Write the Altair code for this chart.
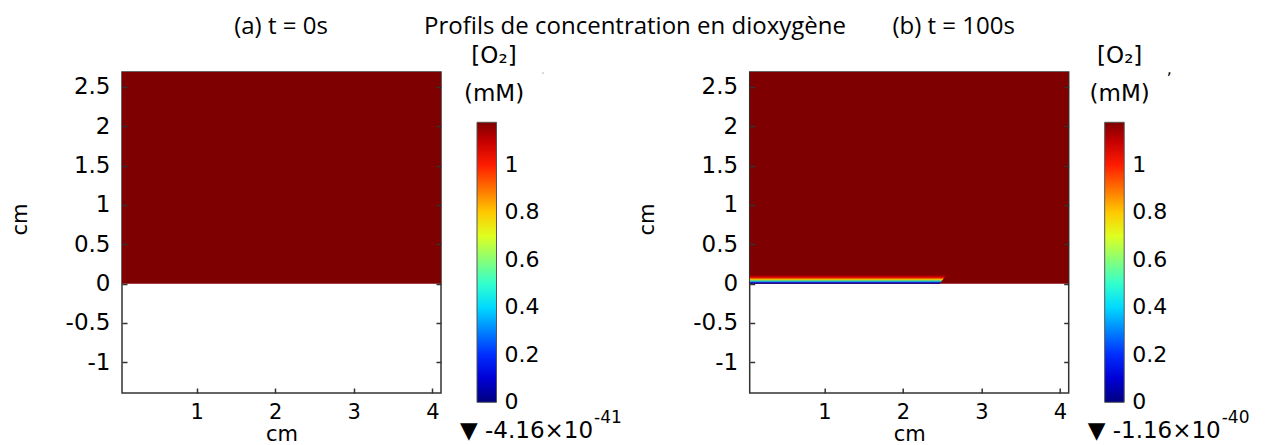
import altair as alt
import pandas as pd

# ---------------- values ----------------
X_DOMAIN = [0.05, 4.11]          # cm, plotted x range
Y_DOMAIN = [-1.39, 2.69]         # cm, plotted y range
X_TICKS = [1, 2, 3, 4]
Y_TICKS = [-1, -0.5, 0, 0.5, 1, 1.5, 2, 2.5]

C_MAX = 1.18                     # mM, top of colour bar
C_MIN = [-4.16e-41, -1.16e-40]   # mM, minimum reported under each colour bar
C_TICKS = [0, 0.2, 0.4, 0.6, 0.8, 1]

# liquid domain (uniform bulk concentration)
BULK_X0 = [0.05]
BULK_X1 = [4.11]
BULK_Y0 = [0.0]
BULK_Y1 = [2.69]
BULK_C = [1.18]

# panel (b): depleted layer above the electrode (x < ~2.5 cm), bottom to top
LAYER_Y0 = [0.0, 0.0125, 0.025, 0.0375, 0.05, 0.0625, 0.075, 0.0875, 0.1]
LAYER_Y1 = [0.0125, 0.025, 0.0375, 0.05, 0.0625, 0.075, 0.0875, 0.1, 0.1125]
LAYER_X1 = [2.47, 2.48, 2.49, 2.50, 2.51, 2.52, 2.53, 2.54, 2.55]
LAYER_C = [0.03, 0.20, 0.40, 0.58, 0.75, 0.90, 1.02, 1.10, 1.15]

MAIN_TITLE = "Profils de concentration en dioxygène"
PANEL_TITLES = ["(a) t = 0s", "(b) t = 100s"]
CBAR_TITLE = ["[O₂]", "(mM)"]
MIN_MANTISSA = ["▼ -4.16×10", "▼ -1.16×10"]
MIN_EXPONENT = ["-41", "-40"]

# COMSOL "Rainbow"/jet colour table
JET = ["#00007f", "#0000ff", "#007fff", "#00ffff", "#7fff7f",
       "#ffff00", "#ff7f00", "#ff0000", "#7f0000"]

W, H = 319, 321
AX = "DejaVu Sans"
TF = "Open Sans"


def field_df(with_layer):
    x0 = list(BULK_X0)
    x1 = list(BULK_X1)
    y0 = list(BULK_Y0)
    y1 = list(BULK_Y1)
    c = list(BULK_C)
    if with_layer:
        x0 += [X_DOMAIN[0]] * len(LAYER_C)
        x1 += LAYER_X1
        y0 += LAYER_Y0
        y1 += LAYER_Y1
        c += LAYER_C
    return pd.DataFrame({"x0": x0, "x1": x1, "y0": y0, "y1": y1, "c": c})


def text(t, x, y, size, font=AX, color="#000", align="center", baseline="alphabetic"):
    return alt.Chart(pd.DataFrame({"t": [t]})).mark_text(
        font=font, fontSize=size, color=color, align=align, baseline=baseline
    ).encode(x=alt.value(x), y=alt.value(y), text="t:N")


def panel(idx, with_layer, title_x, cbar_title_x):
    df = field_df(with_layer)
    cmin = C_MIN[idx]
    stops = [cmin + (C_MAX - cmin) * i / (len(JET) - 1) for i in range(len(JET))]
    xscale = alt.Scale(domain=X_DOMAIN, nice=False, zero=False)
    yscale = alt.Scale(domain=Y_DOMAIN, nice=False, zero=False)
    cscale = alt.Scale(domain=stops, range=JET, interpolate="rgb")

    xaxis = alt.Axis(values=X_TICKS, title="cm", offset=-5, domain=False,
                     tickSize=5, tickWidth=1.5, tickColor="#333", grid=False,
                     labelFont=AX, labelFontSize=21, labelColor="#000",
                     labelPadding=8, labelFlush=False,
                     labelExpr="datum.value + ''",
                     titleFont=AX, titleFontSize=21, titleFontWeight="normal",
                     titleColor="#000", titlePadding=1, zindex=1)
    yaxis = alt.Axis(values=Y_TICKS, title="cm", offset=-5, domain=False,
                     tickSize=5, tickWidth=1.5, tickColor="#333", grid=False,
                     labelFont=AX, labelFontSize=23, labelColor="#000",
                     labelPadding=12, labelFlush=False,
                     labelExpr="datum.value + ''",
                     titleFont=AX, titleFontSize=21, titleFontWeight="normal",
                     titleColor="#000", titlePadding=35, titleY=147, zindex=1)
    yaxis_r = alt.Axis(values=Y_TICKS, orient="right", title=None, labels=False,
                       offset=-5, domain=False, tickSize=5, tickWidth=1.5,
                       tickColor="#333", grid=False, zindex=1)

    legend = alt.Legend(orient="none", legendX=355, legendY=50.3,
                        direction="vertical", gradientLength=280,
                        gradientThickness=19.5, values=C_TICKS, title=None,
                        labelFont=AX, labelFontSize=22, labelColor="#000",
                        labelOffset=8, labelOverlap=False, padding=0,
                        labelBaseline="middle",
                        labelExpr="datum.value + ''",
                        gradientStrokeColor="#555", gradientStrokeWidth=1)

    field = alt.Chart(df).mark_rect(clip=True, strokeWidth=0).encode(
        x=alt.X("x0:Q", scale=xscale, axis=xaxis),
        x2="x1:Q",
        y=alt.Y("y0:Q", scale=yscale, axis=yaxis),
        y2="y1:Q",
        color=alt.Color("c:Q", scale=cscale, legend=legend),
    )
    right = alt.Chart(df).mark_rect(opacity=0, clip=True).encode(
        x=alt.X("x0:Q", scale=xscale, axis=xaxis),
        x2="x1:Q",
        y=alt.Y("y0:Q", scale=yscale, axis=yaxis_r),
        y2="y1:Q",
    )
    base = alt.layer(field, right).resolve_axis(y="independent")

    layers = [
        base,
        text(PANEL_TITLES[idx], title_x, -38.2, 24, font=TF),
        text(CBAR_TITLE[0], cbar_title_x, -9, 23),
        text(CBAR_TITLE[1], cbar_title_x, 29, 23),
        text(MIN_MANTISSA[idx], 338, 366, 23, align="left"),
        text(MIN_EXPONENT[idx], 472, 351, 17, align="left"),
    ]
    return alt.layer(*layers).properties(width=W, height=H)


panel_a = panel(0, False, 159, 372)
panel_a = alt.layer(
    panel_a,
    text(MAIN_TITLE, 513, -38.2, 24, font=TF),
    text("·", 421, 6, 14, color="#c8c8c8"),
)
panel_b = panel(1, True, 204, 370)
panel_b = alt.layer(panel_b, text(",", 419.5, 2, 16))

chart = alt.hconcat(panel_a, panel_b, spacing=308.7, bounds="flush").properties(
    padding={"left": 0, "top": 6, "right": 5, "bottom": 2}
).resolve_scale(color="independent").configure_view(
    stroke="#333", strokeWidth=1.5
)

chart.save("out.html", embed_options={"renderer": "svg", "actions": False})
